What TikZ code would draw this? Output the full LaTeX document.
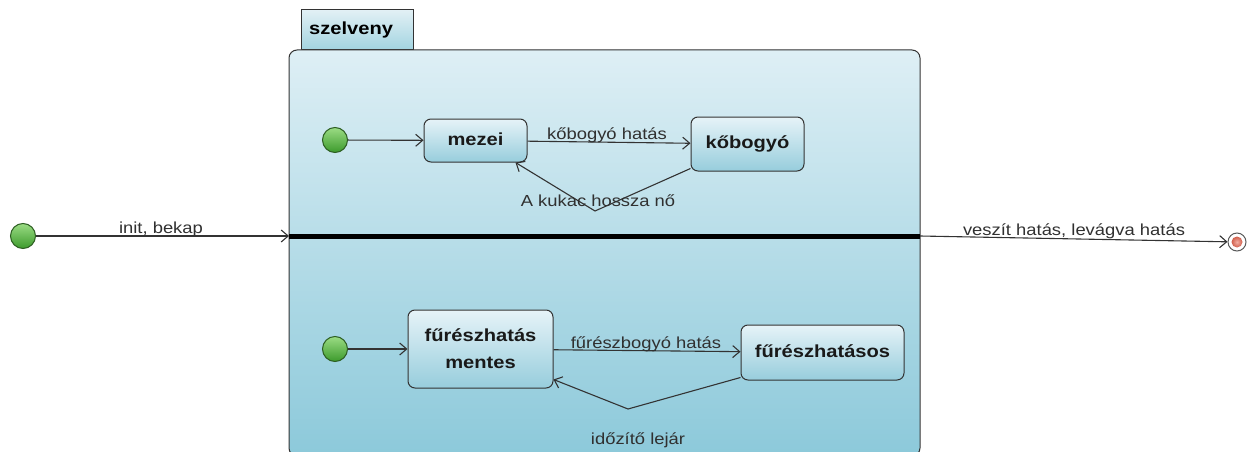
\documentclass[tikz,border=0pt]{standalone}
\usepackage{fontspec}
\setmainfont{Liberation Sans}[FakeStretch=1.15]
\usetikzlibrary{arrows.meta}

\definecolor{edgec}{HTML}{333333}
\definecolor{labc}{HTML}{303030}
\definecolor{compTop}{HTML}{DEEFF5}
\definecolor{compBot}{HTML}{8CC9DA}
\definecolor{boxTop}{HTML}{E6F3F8}
\definecolor{boxBot}{HTML}{97CDDC}
\definecolor{tabTop}{HTML}{E2F0F5}
\definecolor{tabBot}{HTML}{A2D4E1}
\definecolor{ballTop}{HTML}{9BDC84}
\definecolor{ballBot}{HTML}{3C9A2C}
\definecolor{ballEdge}{HTML}{2D5E22}
\definecolor{finRed}{HTML}{E86A55}

\tikzset{
  composite/.style={draw=edgec, line width=1pt, rounded corners=8pt,
    top color=compTop, bottom color=compBot, inner sep=0pt},
  tabbox/.style={draw=edgec, line width=1pt, top color=tabTop, bottom color=tabBot,
    inner sep=0pt, font=\fontsize{17.5}{20}\selectfont\bfseries},
  statebox/.style={draw=edgec, line width=1pt, rounded corners=7pt,
    top color=boxTop, bottom color=boxBot, inner sep=0pt, align=center,
    text=black!90, font=\fontsize{17.5}{27}\selectfont\bfseries},
  initball/.style={circle, draw=ballEdge, line width=1pt, minimum size=25pt,
    inner sep=0pt, top color=ballTop, bottom color=ballBot},
  finring/.style={circle, draw=black!65, line width=1pt, fill=white,
    minimum size=18pt, inner sep=0pt},
  findot/.style={circle, inner sep=0pt, minimum size=11pt,
    inner color=finRed!55!white, outer color=finRed!90!black},
  trans/.style={draw=edgec, line width=1.1pt,
    -{Straight Barb[length=7pt,width=12pt,line width=1.1pt]}},
  lab/.style={text=labc, inner sep=0pt, anchor=base,
    font=\fontsize{16}{18}\selectfont},
  divider/.style={draw=black, line width=5pt}
}

\begin{document}
\begin{tikzpicture}[x=1pt, y=-1pt]
\useasboundingbox (0,0) rectangle (1256,452);
\clip (0,0) rectangle (1256,452);

% composite state with its name tab
\node[tabbox, minimum width=112pt, minimum height=40pt] (tab) at (357,30) {};
\node[anchor=base west, inner sep=0pt, font=\fontsize{17.5}{20}\selectfont\bfseries]
  (tabname) at (309,35) {szelveny};
\node[composite, minimum width=631pt, minimum height=406pt] (comp) at (604.5,253) {};

% concurrent region divider
\coordinate (divL) at (289,236);
\coordinate (divR) at (920,236);
\draw[divider] (divL) -- (divR);

% outer initial and final states
\node[initball] (i0) at (23,236) {};
\node[finring] (fin) at (1237,242) {};
\node[findot] (findot) at (fin) {};

% upper region
\node[initball] (i1) at (335,140) {};
\node[statebox, minimum width=103pt, minimum height=43pt, text height=12pt, text depth=3pt] (mz) at (475.5,140.5) {mezei};
\node[statebox, minimum width=113pt, minimum height=54pt, text height=12pt, text depth=3pt] (kb) at (747.5,144) {kőbogyó};
\coordinate (b1) at (595,211);

% lower region
\node[initball] (i2) at (335,349) {};
\node[statebox, minimum width=145pt, minimum height=78pt] (fm) at (480.5,349) {fűrészhatás\\mentes};
\node[statebox, minimum width=163pt, minimum height=55pt, text height=12pt, text depth=3pt] (fh) at (822.5,352.5) {fűrészhatásos};
\coordinate (b2) at (628,409);

% transitions
\draw[trans] (i0) -- (divL);
\draw[trans] (divR) -- (fin);
\draw[trans] (i1) -- (mz);
\draw[trans] (mz) -- (kb);
\draw[trans] ([yshift=3pt]kb.south west) -- (b1) -- ([xshift=-12pt]mz.south east);
\draw[trans] (i2) -- (fm);
\draw[trans] (fm) -- (fh);
\draw[trans] ([yshift=3pt]fh.south west) -- (b2) -- ([yshift=9pt]fm.south east);

% transition labels
\node[lab] (l0) at (161,233) {init, bekap};
\node[lab] (l1) at (1074,235) {veszít hatás, levágva hatás};
\node[lab] (l2) at (607,139) {kőbogyó hatás};
\node[lab] (l3) at (598,206) {A kukac hossza nő};
\node[lab] (l4) at (646,348) {fűrészbogyó hatás};
\node[lab] (l5) at (638,444) {időzítő lejár};
\end{tikzpicture}
\end{document}
